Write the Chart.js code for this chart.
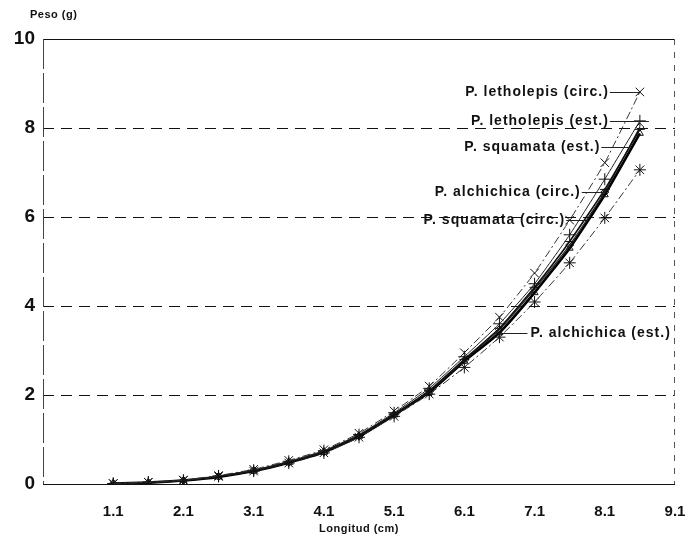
<!DOCTYPE html>
<html lang="es">
<head>
    <meta charset="UTF-8">
    <title>Peso - Longitud</title>
    <script src="https://cdn.jsdelivr.net/npm/chart.js"></script>
    <style>
        body {
            margin: 0;
            background: #fff;
        }
        .contenedor {
            width: 697px;
            height: 553px;
        }
    </style>
</head>
<body>
    <div class="contenedor">
        <canvas id="grafico" width="697" height="553"></canvas>
    </div>

    <script>
        // Longitud (cm) de cada punto
        const longitud = [1.1, 1.6, 2.1, 2.6, 3.1, 3.6, 4.1, 4.6, 5.1, 5.6, 6.1, 6.6, 7.1, 7.6, 8.1, 8.6];

        // Peso (g) por especie y método
        const letholepisCirc = [0.01, 0.04, 0.09, 0.19, 0.33, 0.53, 0.77, 1.14, 1.64, 2.20, 2.95, 3.75, 4.74, 5.93, 7.22, 8.81];
        const letholepisEst  = [0.01, 0.04, 0.08, 0.18, 0.31, 0.51, 0.75, 1.11, 1.60, 2.15, 2.86, 3.60, 4.50, 5.60, 6.85, 8.16];
        const squamataEst    = [0.01, 0.03, 0.08, 0.17, 0.30, 0.49, 0.73, 1.09, 1.57, 2.10, 2.80, 3.50, 4.42, 5.45, 6.62, 7.97];
        const alchichicaCirc = [0.01, 0.03, 0.08, 0.17, 0.30, 0.49, 0.72, 1.08, 1.56, 2.08, 2.78, 3.47, 4.38, 5.37, 6.56, 8.02];
        const squamataCirc   = [0.01, 0.04, 0.08, 0.17, 0.29, 0.47, 0.70, 1.05, 1.52, 2.02, 2.62, 3.30, 4.09, 4.97, 5.98, 7.06];
        const alchichicaEst  = [0.01, 0.03, 0.08, 0.16, 0.29, 0.48, 0.71, 1.07, 1.55, 2.06, 2.76, 3.40, 4.30, 5.30, 6.50, 7.88];

        const nombres = ['P. letholepis (circ.)', 'P. letholepis (est.)', 'P. squamata (est.)',
                         'P. alchichica (circ.)', 'P. squamata (circ.)', 'P. alchichica (est.)'];

        // Marcas del eje x
        const marcasX = [1.1, 2.1, 3.1, 4.1, 5.1, 6.1, 7.1, 8.1, 9.1];

        // Rótulos con línea guía: punto de la serie (o valor sobre la curva) y separación del texto
        const rotulos = [
            { serie: 0, punto: 15, dx: -30, extra: 0 },
            { serie: 1, punto: 15, dx: -30, extra: 9 },
            { serie: 2, x: 8.45, y: 7.57, dx: -28, extra: 0 },
            { serie: 3, punto: 14, dx: -23, extra: 0 },
            { serie: 4, x: 7.85, y: 5.93, dx: -21, extra: 0 },
            { serie: 5, punto: 11, dx: 28, extra: 0 }
        ];

        const FUENTE = '"Liberation Sans", Arial, Helvetica, sans-serif';

        function puntos(serie) {
            return longitud.map((x, i) => ({ x: x, y: serie[i] }));
        }

        // Marco y líneas horizontales discontinuas
        const marco = {
            id: 'marco',
            beforeDatasetsDraw(chart) {
                const { ctx, chartArea: a, scales } = chart;
                const y = scales.y;
                ctx.save();
                ctx.strokeStyle = '#111';
                ctx.lineWidth = 1;
                [0, 2, 4, 6, 8, 10].forEach(v => {
                    const py = Math.round(y.getPixelForValue(v)) + 0.5;
                    ctx.setLineDash(v === 0 || v === 10 ? [] : [11, 7]);
                    ctx.beginPath();
                    ctx.moveTo(a.left, py);
                    ctx.lineTo(a.right, py);
                    ctx.stroke();
                });
                // borde izquierdo
                ctx.strokeStyle = '#444';
                ctx.setLineDash([30, 4]);
                ctx.beginPath();
                ctx.moveTo(a.left + 0.5, a.top);
                ctx.lineTo(a.left + 0.5, a.bottom);
                ctx.stroke();
                // borde derecho
                ctx.strokeStyle = '#555';
                ctx.setLineDash([6, 7]);
                ctx.beginPath();
                ctx.moveTo(a.right - 0.5, a.top);
                ctx.lineTo(a.right - 0.5, a.bottom);
                ctx.stroke();
                ctx.restore();
            }
        };

        // Nombres de las curvas, líneas guía y títulos de los ejes
        const textos = {
            id: 'textos',
            afterDatasetsDraw(chart) {
                const { ctx, chartArea: a, scales } = chart;
                ctx.save();
                ctx.fillStyle = '#111';
                ctx.strokeStyle = '#222';
                ctx.lineWidth = 1;
                ctx.setLineDash([]);
                ctx.textBaseline = 'middle';
                ctx.font = 'bold 14px ' + FUENTE;
                ctx.letterSpacing = '1px';
                rotulos.forEach(r => {
                    const datos = chart.data.datasets[r.serie].data;
                    const vx = r.punto !== undefined ? datos[r.punto].x : r.x;
                    const vy = r.punto !== undefined ? datos[r.punto].y : r.y;
                    const px = scales.x.getPixelForValue(vx);
                    const py = Math.round(scales.y.getPixelForValue(vy)) + 0.5;
                    const tx = px + r.dx;
                    ctx.textAlign = r.dx < 0 ? 'right' : 'left';
                    ctx.fillText(nombres[r.serie], tx + (r.dx < 0 ? -1 : 3), py);
                    ctx.beginPath();
                    ctx.moveTo(tx, py);
                    ctx.lineTo(px + (r.dx < 0 ? r.extra : -r.extra), py);
                    ctx.stroke();
                });
                ctx.letterSpacing = '0.5px';
                ctx.font = 'bold 11px ' + FUENTE;
                ctx.textAlign = 'left';
                ctx.fillText('Peso (g)', 30, 15);
                ctx.textAlign = 'center';
                ctx.fillText('Longitud (cm)', (a.left + a.right) / 2, 529);
                ctx.restore();
            }
        };

        const estilos = [
            { borderColor: '#333', borderWidth: 1, borderDash: [8, 3, 2, 3], pointStyle: 'crossRot', pointRadius: 6 },
            { borderColor: '#222', borderWidth: 1, borderDash: [], pointStyle: 'cross', pointRadius: 6 },
            { borderColor: '#111', borderWidth: 1.6, borderDash: [], pointStyle: 'line', pointRadius: 5 },
            { borderColor: '#222', borderWidth: 1.2, borderDash: [], pointStyle: 'rectRot', pointRadius: 4 },
            { borderColor: '#333', borderWidth: 1, borderDash: [8, 3, 2, 3], pointStyle: 'star', pointRadius: 6 },
            { borderColor: '#000', borderWidth: 2.6, borderDash: [], pointStyle: 'triangle', pointRadius: 4 }
        ];

        const series = [letholepisCirc, letholepisEst, squamataEst, alchichicaCirc, squamataCirc, alchichicaEst];

        const datasets = series.map((s, i) => Object.assign({
            label: nombres[i],
            data: puntos(s),
            pointBorderColor: '#111',
            pointBackgroundColor: 'rgba(255,255,255,0)',
            pointBorderWidth: 1,
            tension: 0.15,
            fill: false
        }, estilos[i]));

        new Chart(document.getElementById('grafico').getContext('2d'), {
            type: 'line',
            data: { datasets: datasets },
            options: {
                responsive: false,
                devicePixelRatio: 1,
                animation: false,
                layout: { padding: { top: 39, right: 22, left: 0, bottom: 0 } },
                plugins: {
                    legend: { display: false },
                    tooltip: { enabled: false }
                },
                scales: {
                    x: {
                        type: 'linear',
                        min: 0.1,
                        max: 9.1,
                        grid: { display: false, drawTicks: false },
                        border: { display: false },
                        afterBuildTicks: scale => {
                            scale.ticks = marcasX.map(v => ({ value: v }));
                        },
                        afterFit: scale => {
                            scale.height = 69;
                            scale.paddingLeft = 0;
                            scale.paddingRight = 0;
                        },
                        ticks: {
                            autoSkip: false,
                            maxRotation: 0,
                            padding: 19,
                            color: '#111',
                            font: { family: FUENTE, size: 15, weight: 'bold' },
                            callback: v => v.toFixed(1)
                        }
                    },
                    y: {
                        min: 0,
                        max: 10,
                        grid: { display: false, drawTicks: false },
                        border: { display: false },
                        afterFit: scale => { scale.width = 43; },
                        ticks: {
                            stepSize: 2,
                            padding: 8,
                            color: '#111',
                            font: { family: FUENTE, size: 19, weight: 'bold' }
                        }
                    }
                }
            },
            plugins: [marco, textos]
        });
    </script>
</body>
</html>
